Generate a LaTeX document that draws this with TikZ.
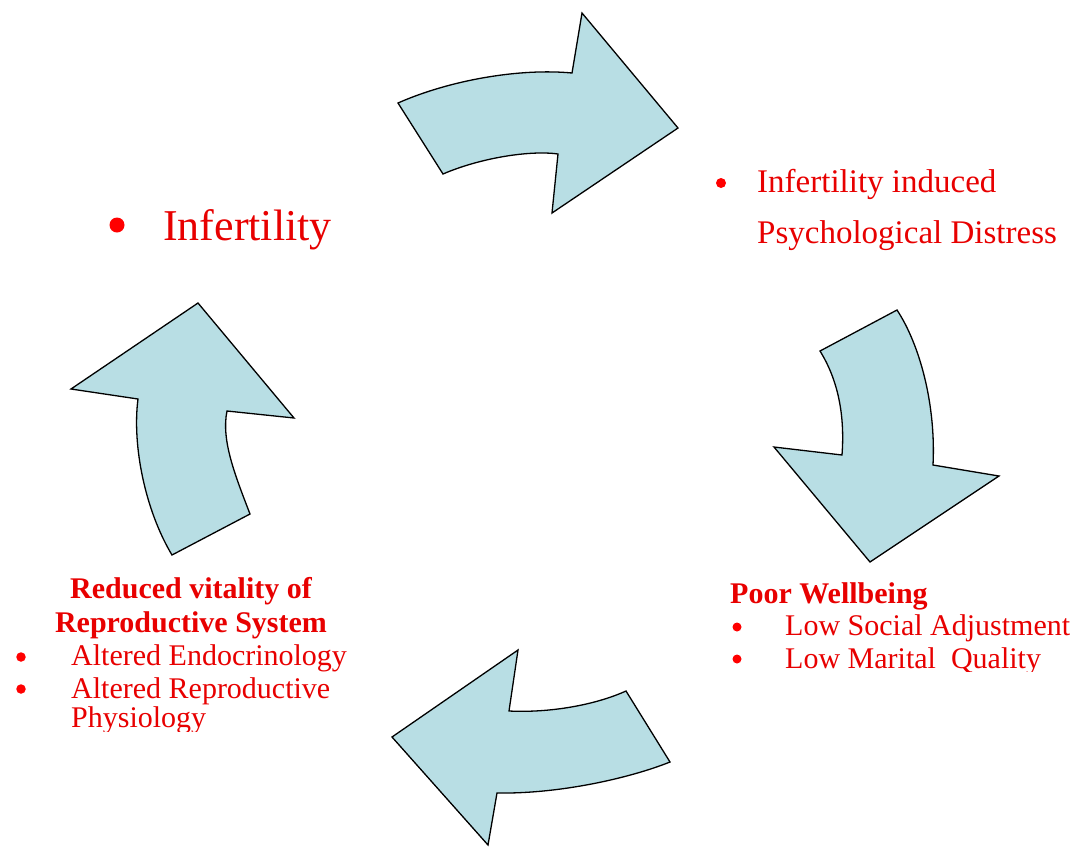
\documentclass[tikz,border=0pt]{standalone}
\usepackage{fontspec}
\setmainfont{Liberation Serif}
\definecolor{arrowfill}{RGB}{184,222,228}
\definecolor{txtred}{RGB}{232,0,0}
\tikzset{
  cyclearrow/.style={draw=black, line width=1.3pt, fill=arrowfill, line join=miter},
  lbl/.style={anchor=base west, inner sep=0pt, text=txtred},
  lblc/.style={anchor=base, inner sep=0pt, text=txtred},
  bul/.style={circle, fill=red, inner sep=0pt, minimum size=#1},
  big/.style={font=\fontsize{44}{48}\selectfont},
  mid/.style={font=\fontsize{33}{36}\selectfont},
  sml/.style={font=\fontsize{30}{33}\selectfont},
  smlb/.style={font=\fontsize{30}{33}\selectfont\bfseries},
}
\begin{document}
\begin{tikzpicture}[x=1pt,y=-1pt]
\useasboundingbox[fill=white] (0,0) rectangle (1078,847);

% top arrow
\draw[cyclearrow] (398,103) .. controls (450,80) and (520,68) .. (572,73)
  -- (582,13) -- (678,128) -- (552,213) -- (558,154)
  .. controls (530,150) and (480,158) .. (443,174) -- cycle;
% right arrow
\draw[cyclearrow] (820,351) -- (897,310) .. controls (920,345) and (936,405) .. (933,465)
  -- (999,476) -- (870,562) -- (774,447) -- (842,455)
  .. controls (845,415) and (838,380) .. (820,351) -- cycle;
% bottom arrow
\draw[cyclearrow] (626,691) -- (670,762) .. controls (630,778) and (560,794) .. (497,793)
  -- (488,845) -- (392,737) -- (518,650) -- (509,711)
  .. controls (550,713) and (595,705) .. (626,691) -- cycle;
% left arrow
\draw[cyclearrow] (172,555) -- (250,514) .. controls (235,475) and (221,440) .. (227,411)
  -- (294,418) -- (198,303) -- (71,389) -- (138,399)
  .. controls (132,445) and (145,510) .. (172,555) -- cycle;

% Infertility
\node[bul=15pt] (b0) at (117,225) {};
\node[lbl,big] (t0) at (163,240) {Infertility};

% Psychological distress
\node[bul=10pt] (b1) at (721,183) {};
\node[lbl,mid] (t1a) at (757,192) {Infertility induced};
\node[lbl,mid] (t1b) at (757,243) {Psychological Distress};

% Poor wellbeing
\node[lbl,smlb] (t2) at (730,603) {Poor Wellbeing};
\node[bul=9pt] (b2a) at (737,627) {};
\node[lbl,sml] (t2a) at (785,635) {Low Social Adjustment};
\node[bul=9pt] (b2b) at (737,659) {};
\begin{scope}
\clip (700,640) rectangle (1078,671);
\node[lbl,sml] (t2b) at (785,668) {Low Marital\ \ Quality};
\end{scope}

% Reduced vitality
\node[lblc,smlb] (t3) at (191,598) {Reduced vitality of};
\node[lblc,smlb] (t3b) at (191,632) {Reproductive System};
\node[bul=9.5pt] (b3a) at (21,657) {};
\node[lbl,sml] (t3c) at (71,665) {Altered Endocrinology};
\node[bul=9.5pt] (b3b) at (21,689) {};
\node[lbl,sml] (t3d) at (71,698) {Altered Reproductive};
\begin{scope}
\clip (0,705) rectangle (380,731);
\node[lbl,sml] (t3e) at (71,727) {Physiology};
\end{scope}
\end{tikzpicture}
\end{document}
